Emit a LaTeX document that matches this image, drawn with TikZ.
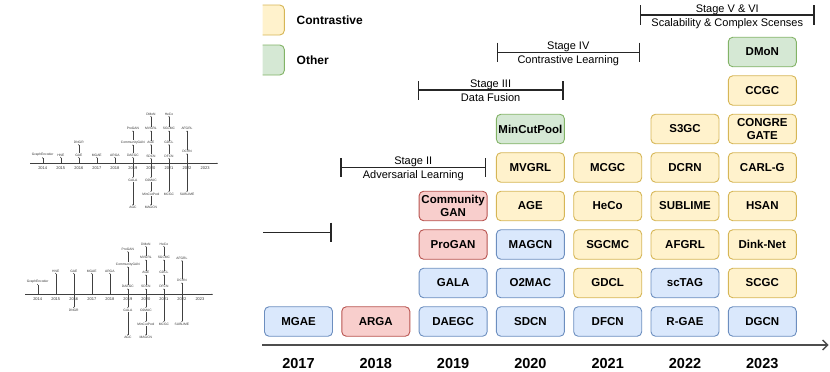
\documentclass[tikz,border=0pt]{standalone}
\usepackage{fontspec}
\setmainfont{Liberation Sans}
\usepackage{graphicx}
\usetikzlibrary{arrows.meta}
\definecolor{bluef}{HTML}{DAE8FC}\definecolor{blued}{HTML}{6C8EBF}
\definecolor{redf}{HTML}{F8CECC}\definecolor{redd}{HTML}{B85450}
\definecolor{yelf}{HTML}{FFF2CC}\definecolor{yeld}{HTML}{D6B656}
\definecolor{grnf}{HTML}{D5E8D4}\definecolor{grnd}{HTML}{82B366}
\definecolor{axc}{HTML}{4D4D4D}
\begin{document}
\begin{tikzpicture}[x=1pt,y=-1pt,
  bx/.style={draw, rounded corners=4.5pt, minimum width=68pt, minimum height=29.5pt, inner sep=0pt, align=center, line width=0.9pt, font=\bfseries\fontsize{11.5}{12.5}\selectfont},
  bb/.style={bx, fill=bluef, draw=blued},
  br/.style={bx, fill=redf, draw=redd},
  by/.style={bx, fill=yelf, draw=yeld},
  bg/.style={bx, fill=grnf, draw=grnd},
  stg/.style={line width=1.1pt, black!85},
  stt/.style={font=\fontsize{11}{12}\selectfont, anchor=base, inner sep=0pt},
  yr/.style={font=\bfseries\fontsize{14.5}{16}\selectfont, inner sep=0pt},
  axis/.style={line width=1.3pt, axc, -{Straight Barb[length=5pt,width=10pt,line width=1.3pt]}},
  tt/.style={font=\fontsize{3.3}{3.6}\selectfont, inner sep=0.4pt, black!80},
  tyr/.style={font=\fontsize{4}{4.5}\selectfont, inner sep=0.3pt, black!80},
  ta/.style={line width=0.3pt, black!75, -{Stealth[length=1.3pt,width=1.1pt]}},
  lgt/.style={font=\bfseries\fontsize{12}{14}\selectfont, anchor=west, inner sep=0pt}
]
\useasboundingbox (0,0) rectangle (830,372);

% ---------- legend ----------
\begin{scope}
\clip (262.5,0) rectangle (300,80);
\node[by, minimum width=44pt, minimum height=30pt] (legc) at (262.3,20) {};
\node[bg, minimum width=44pt, minimum height=30pt] (lego) at (262.3,60) {};
\end{scope}
\node[lgt] (legct) at (296.5,20) {Contrastive};
\node[lgt] (legot) at (296.5,60) {Other};

% ---------- stage brackets ----------
% Stage I (partial)
\coordinate (s1l) at (263,232.7); \coordinate (s1r) at (331,232.7);
\coordinate (s1rt) at (331,222.7); \coordinate (s1rb) at (331,241.7);
\draw[stg] (s1l) -- (s1r); \draw[stg] (s1rt) -- (s1rb);
% Stage II
\coordinate (s2l) at (341,167.3); \coordinate (s2r) at (485.7,167.3);
\coordinate (s2lt) at (341,158.3); \coordinate (s2lb) at (341,176.7);
\coordinate (s2rt) at (485.7,158.3); \coordinate (s2rb) at (485.7,176.7);
\draw[stg] (s2l) -- (s2r); \draw[stg] (s2lt) -- (s2lb); \draw[stg] (s2rt) -- (s2rb);
\node[stt] (s2a) at (413.3,164.6) {Stage II};
\node[stt] (s2b) at (413.3,178.8) {Adversarial Learning};
% Stage III
\coordinate (s3l) at (418.3,90); \coordinate (s3r) at (563,90);
\coordinate (s3lt) at (418.3,81); \coordinate (s3lb) at (418.3,100);
\coordinate (s3rt) at (563,81); \coordinate (s3rb) at (563,100);
\draw[stg] (s3l) -- (s3r); \draw[stg] (s3lt) -- (s3lb); \draw[stg] (s3rt) -- (s3rb);
\node[stt] (s3a) at (490.6,87.3) {Stage III};
\node[stt] (s3b) at (490.6,101.5) {Data Fusion};
% Stage IV
\coordinate (s4l) at (497.3,52.3); \coordinate (s4r) at (639.3,52.3);
\coordinate (s4lt) at (497.3,42.7); \coordinate (s4lb) at (497.3,61.7);
\coordinate (s4rt) at (639.3,42.7); \coordinate (s4rb) at (639.3,61.7);
\draw[stg] (s4l) -- (s4r); \draw[stg] (s4lt) -- (s4lb); \draw[stg] (s4rt) -- (s4rb);
\node[stt] (s4a) at (568.3,49.6) {Stage IV};
\node[stt] (s4b) at (568.3,63.8) {Contrastive Learning};
% Stage V & VI
\coordinate (s5l) at (640.7,15); \coordinate (s5r) at (814,15);
\coordinate (s5lt) at (640.7,5); \coordinate (s5lb) at (640.7,24.5);
\coordinate (s5rt) at (814,5); \coordinate (s5rb) at (814,24.5);
\draw[stg] (s5l) -- (s5r); \draw[stg] (s5lt) -- (s5lb); \draw[stg] (s5rt) -- (s5rb);
\node[stt] (s5a) at (727.3,12.3) {Stage V \& VI};
\node[stt] (s5b) at (727.3,26.5) {Scalability \& Complex Scenses};

% ---------- method boxes ----------
% 2017
\node[bb] (mgae) at (298.5,321.5) {MGAE};
% 2018
\node[br] (arga) at (375.8,321.5) {ARGA};
% 2019
\node[bb] (daegc) at (453.1,321.5) {DAEGC};
\node[bb] (gala) at (453.1,283) {GALA};
\node[br] (progan) at (453.1,244.5) {ProGAN};
\node[br, font=\bfseries\fontsize{11.5}{12.3}\selectfont] (cgan) at (453.1,206) {Community\\GAN};
% 2020
\node[bb] (sdcn) at (530.4,321.5) {SDCN};
\node[bb] (o2mac) at (530.4,283) {O2MAC};
\node[bb] (magcn) at (530.4,244.5) {MAGCN};
\node[by] (age) at (530.4,206) {AGE};
\node[by] (mvgrl) at (530.4,167.5) {MVGRL};
\node[bg] (mincut) at (530.4,129) {MinCutPool};
% 2021
\node[bb] (dfcn) at (607.7,321.5) {DFCN};
\node[by] (gdcl) at (607.7,283) {GDCL};
\node[by] (sgcmc) at (607.7,244.5) {SGCMC};
\node[by] (heco) at (607.7,206) {HeCo};
\node[by] (mcgc) at (607.7,167.5) {MCGC};
% 2022
\node[bb] (rgae) at (685,321.5) {R-GAE};
\node[bb] (sctag) at (685,283) {scTAG};
\node[by] (afgrl) at (685,244.5) {AFGRL};
\node[by] (sublime) at (685,206) {SUBLIME};
\node[by] (dcrn) at (685,167.5) {DCRN};
\node[by] (s3gc) at (685,129) {S3GC};
% 2023
\node[bb] (dgcn) at (762.3,321.5) {DGCN};
\node[by] (scgc) at (762.3,283) {SCGC};
\node[by] (dink) at (762.3,244.5) {Dink-Net};
\node[by] (hsan) at (762.3,206) {HSAN};
\node[by] (carlg) at (762.3,167.5) {CARL-G};
\node[by, font=\bfseries\fontsize{11.5}{12.3}\selectfont] (congre) at (762.3,129) {CONGRE\\GATE};
\node[by] (ccgc) at (762.3,90.5) {CCGC};
\node[bg] (dmon) at (762.3,52) {DMoN};

% ---------- main axis and years ----------
\coordinate (axL) at (262.3,345); \coordinate (axR) at (828.5,345);
\draw[axis] (axL) -- (axR);
\node[yr] (y2017) at (298.5,363.5) {2017};
\node[yr] (y2018) at (375.8,363.5) {2018};
\node[yr] (y2019) at (453.1,363.5) {2019};
\node[yr] (y2020) at (530.4,363.5) {2020};
\node[yr] (y2021) at (607.7,363.5) {2021};
\node[yr] (y2022) at (685,363.5) {2022};
\node[yr] (y2023) at (762.3,363.5) {2023};

% ---------- thumbnail A ----------
\coordinate (aL) at (30,163.3); \coordinate (aR) at (218,163.3);
\draw[ta] (aL) -- (aR);
\foreach \ii/\yy in {0/2014,1/2015,2/2016,3/2017,4/2018,5/2019,6/2020,7/2021,8/2022,9/2023} {
  \node[tyr] (ay\ii) at ({42.7+18.04*\ii},168) {\yy};
  \coordinate (ax\ii) at ({42.7+18.04*\ii},163.3);
}
\foreach \nm/\ii/\yy/\tx in {GE/0/155/GraphEncoder, HNE/1/155/HNE, GAE/2/155/GAE, DNGR/2/142.3/DNGR,
  MGAE/3/155/MGAE, ARGA/4/155/ARGA, DAEGC/5/155/DAEGC, CGAN/5/142.3/CommunityGAN, PGAN/5/128.7/ProGAN,
  GALA/5/180/GALA, AGC/5/207.3/AGC, SDCN/6/156/SDCN, AGE/6/142.3/AGE, MVGRL/6/128.7/MVGRL, DMoN/6/114/DMoN,
  O2MAC/6/180/O2MAC, MCP/6/194/MinCutPool, MAGCN/6/207.3/MAGCN, DFCN/7/156/DFCN, GDCL/7/142.3/GDCL,
  SGCMC/7/128.7/SGCMC, HeCo/7/114/HeCo, MCGC/7/194/MCGC, DCRN/8/151.5/DCRN, AFGRL/8/128.7/AFGRL, SUB/8/194/SUBLIME}
  \node[tt] (a\nm) at ({42.7+18.04*\ii},\yy) {\tx};
\foreach \p/\q in {x0/GE, x1/HNE, x2/GAE, GAE/DNGR, x3/MGAE, x4/ARGA, x5/DAEGC, DAEGC/CGAN, CGAN/PGAN,
  x5/GALA, GALA/AGC, x6/SDCN, SDCN/AGE, AGE/MVGRL, MVGRL/DMoN, x6/O2MAC, O2MAC/MCP, MCP/MAGCN,
  x7/DFCN, DFCN/GDCL, GDCL/SGCMC, SGCMC/HeCo, x7/MCGC, x8/DCRN, DCRN/AFGRL, x8/SUB}
  \draw[ta] (a\p) -- (a\q);

% ---------- thumbnail B ----------
\coordinate (bL) at (25,294.3); \coordinate (bR) at (213,294.3);
\draw[ta] (bL) -- (bR);
\foreach \ii/\yy in {0/2014,1/2015,2/2016,3/2017,4/2018,5/2019,6/2020,7/2021,8/2022,9/2023} {
  \node[tyr] (by\ii) at ({37.7+18.03*\ii},299) {\yy};
  \coordinate (bx\ii) at ({37.7+18.03*\ii},294.3);
}
\foreach \nm/\ii/\yy/\tx in {GE/0/281.7/GraphEncoder, HNE/1/271/HNE, GAE/2/271/GAE, DNGR/2/310/DNGR,
  MGAE/3/271/MGAE, ARGA/4/271/ARGA, DAEGC/5/286.7/DAEGC, CGAN/5/264.3/CommunityGAN, PGAN/5/249.3/ProGAN,
  GALA/5/310/GALA, AGC/5/337.3/AGC, SDCN/6/286.7/SDCN, AGE/6/272.7/AGE, MVGRL/6/257.7/MVGRL, DMoN/6/244/DMoN,
  O2MAC/6/310/O2MAC, MCP/6/324/MinCutPool, MAGCN/6/337.3/MAGCN, DFCN/7/286.7/DFCN, GDCL/7/272.7/GDCL,
  SGCMC/7/257.7/SGCMC, HeCo/7/244/HeCo, MCGC/7/324/MCGC, DCRN/8/280.7/DCRN, AFGRL/8/258.3/AFGRL, SUB/8/324/SUBLIME}
  \node[tt] (b\nm) at ({37.7+18.03*\ii},\yy) {\tx};
\foreach \p/\q in {x0/GE, x1/HNE, x2/GAE, x2/DNGR, x3/MGAE, x4/ARGA, x5/DAEGC, DAEGC/CGAN, CGAN/PGAN,
  x5/GALA, GALA/AGC, x6/SDCN, SDCN/AGE, AGE/MVGRL, MVGRL/DMoN, x6/O2MAC, O2MAC/MCP, MCP/MAGCN,
  x7/DFCN, DFCN/GDCL, GDCL/SGCMC, SGCMC/HeCo, x7/MCGC, x8/DCRN, DCRN/AFGRL, x8/SUB}
  \draw[ta] (b\p) -- (b\q);
\end{tikzpicture}
\end{document}
